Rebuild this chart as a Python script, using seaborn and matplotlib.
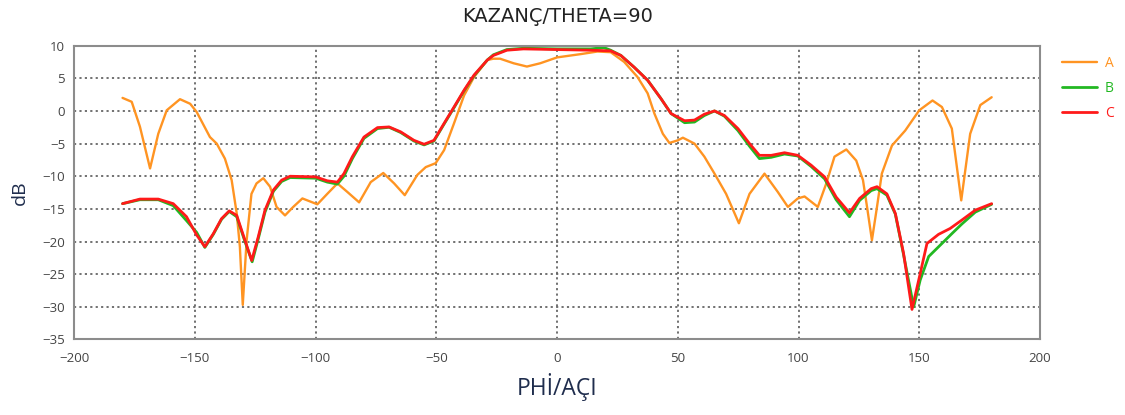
import matplotlib
matplotlib.use("Agg")
import matplotlib.pyplot as plt
import seaborn as sns
import pandas as pd

# ---- data ----
phi_a = [-180, -176.2, -172.8, -168.6, -165.2, -161.7, -156.2, -152, -149.3, -143.8, -141,
         -137.6, -134.8, -132.7, -131.4, -130.2, -128.6, -126.6, -124.5, -121.7, -118.9,
         -116.2, -112.7, -109.3, -105.5, -99.3, -95.2, -91, -86.9, -82, -77.2, -72, -67.5,
         -63.1, -57.9, -54.4, -50.3, -46.8, -42.7, -38.5, -34.4, -28.9, -26.4, -23.6, -18,
         -12.5, -7, 0, 9.7, 16.7, 22.2, 27.8, 33.3, 37.5, 40.3, 43.8, 46.5, 50, 52.1, 56.9,
         61, 65.2, 70, 75.3, 79.7, 85.9, 91.4, 95.6, 99.7, 102.5, 108, 111.5, 114.9, 119.8,
         123.9, 126.7, 128.5, 130.4, 132.5, 134.5, 138.7, 144.2, 150, 155.5, 159.4, 163.5,
         167.4, 171.1, 175.3, 180]
db_a = [2.0, 1.4, -2.4, -8.8, -3.5, 0.1, 1.8, 1.1, -0.15, -4.0, -5.0,
        -7.3, -10.6, -15.7, -20.8, -29.7, -19.8, -12.7, -11.1, -10.3, -11.6,
        -14.7, -16.0, -14.7, -13.4, -14.3, -12.7, -11.1, -12.4, -14.0, -10.9, -9.5, -11.1,
        -12.9, -9.8, -8.6, -8.0, -6.0, -1.9, 2.4, 5.2, 7.8, 8.0, 8.0, 7.3,
        6.8, 7.3, 8.2, 8.7, 9.1, 9.0, 7.5, 5.2, 2.7, -0.4, -3.5, -4.9, -4.5, -4.1, -5.0,
        -7.0, -9.6, -12.7, -17.2, -12.7, -9.6, -12.4, -14.7, -13.4, -13.1, -14.7, -11.1, -7.0, -5.9,
        -7.6, -10.6, -15.0, -19.8, -14.7, -9.6, -5.3, -3.0, 0.1, 1.6, 0.6, -2.7,
        -13.7, -3.5, 0.9, 2.1]

phi_b = [-180, -172.8, -165.2, -159, -153.5, -149.3, -145.9, -142.4, -139, -135.8, -132.7,
         -129.3, -126.3, -123.8, -121, -117.5, -114.1, -110.6, -100, -95.2, -91, -88.3,
         -84.8, -80, -74.4, -69.6, -64.8, -59.3, -55.1, -51, -46.8, -42.7, -38.5, -34.4,
         -28.9, -26.4, -20.8, -13.9, 0, 13.9, 19.4, 22.2, 26.4, 31.9, 37.5, 43, 47.2, 52.8,
         56.9, 61, 65.2, 69.3, 74.9, 79.7, 83.8, 88.7, 94.2, 99.7, 105.2, 110.8, 115.6,
         121.1, 125.3, 130.1, 132.5, 136.6, 140.1, 143.5, 147.7, 150.4, 153.9, 159.4, 163.5,
         167.7, 173.2, 180]
db_b = [-14.2, -13.6, -13.6, -14.5, -16.8, -18.6, -20.9, -18.9, -16.6, -15.4, -16.2,
        -20.0, -23.1, -19.6, -15.5, -12.3, -10.8, -10.2, -10.3, -10.9, -11.2, -10.0,
        -7.3, -4.2, -2.7, -2.5, -3.3, -4.6, -5.2, -4.6, -2.0, 0.5, 3.1, 5.4,
        7.8, 8.6, 9.4, 9.6, 9.5, 9.5, 9.7, 9.3, 8.5, 6.7, 4.7, 1.9, -0.4, -1.8,
        -1.7, -0.7, 0.0, -0.8, -3.0, -5.4, -7.3, -7.1, -6.6, -6.9, -8.5, -10.4, -13.6,
        -16.2, -13.7, -12.2, -11.9, -12.9, -15.8, -22.0, -30.0, -25.9, -22.3, -20.3, -18.8,
        -17.3, -15.5, -14.3]

phi_c = [-180, -172.8, -165.2, -159, -153.5, -149.3, -145.9, -142.4, -139, -135.8, -132.7,
         -129.3, -126.5, -123.8, -121, -117.5, -114.1, -110.6, -100, -95.2, -91, -88.3,
         -84.8, -80, -74.4, -69.6, -64.8, -59.3, -55.1, -51, -46.8, -42.7, -38.5, -34.4,
         -28.9, -26.4, -20.8, -13.9, 0, 13.9, 22.2, 26.4, 31.9, 37.5, 43, 47.2, 52.8,
         56.9, 61, 65.2, 69.3, 74.9, 79.7, 83.8, 88.7, 94.2, 99.7, 105.2, 110.8, 115.6,
         121.1, 125.3, 130.1, 132.5, 136.6, 140.1, 143.5, 147, 150.4, 153.2, 158, 162.8,
         167.7, 173.2, 180]
db_c = [-14.2, -13.5, -13.5, -14.2, -16.2, -19.0, -20.8, -18.8, -16.5, -15.3, -16.0,
        -19.8, -22.9, -19.3, -15.2, -12.1, -10.6, -10.0, -10.1, -10.7, -10.9, -9.6,
        -7.0, -4.0, -2.55, -2.45, -3.2, -4.5, -5.1, -4.5, -1.9, 0.6, 3.2, 5.5,
        7.8, 8.5, 9.3, 9.5, 9.4, 9.3, 9.2, 8.5, 6.7, 4.7, 1.9, -0.4, -1.5,
        -1.4, -0.5, 0.0, -0.7, -2.7, -5.0, -6.8, -6.8, -6.4, -6.8, -8.3, -10.1, -13.2,
        -15.6, -13.4, -11.9, -11.6, -12.7, -15.7, -21.8, -30.4, -24.9, -20.3, -18.9, -18.0,
        -16.7, -15.2, -14.2]

series_names = ["A", "B", "C"]
series_colors = {"A": "#FF9422", "B": "#22B822", "C": "#FF1A1A"}
x_ticks = [-200, -150, -100, -50, 0, 50, 100, 150, 200]
y_ticks = [10, 5, 0, -5, -10, -15, -20, -25, -30, -35]

frames = []
for name, px, py in zip(series_names, [phi_a, phi_b, phi_c], [db_a, db_b, db_c]):
    frames.append(pd.DataFrame({"phi": px, "dB": py, "series": name}))
df = pd.concat(frames, ignore_index=True)

sns.set_style("white")
plt.rcParams["font.family"] = ["Open Sans", "DejaVu Sans"]

fig = plt.figure(figsize=(11.25, 4.15), dpi=100)
ax = fig.add_axes([0.066, 0.182, 0.8584, 0.708])

for name in series_names:
    sub = df[df["series"] == name]
    sns.lineplot(data=sub, x="phi", y="dB", sort=False, ax=ax,
                 color=series_colors[name], linewidth=1.7 if name == "A" else 2.0,
                 label=name, estimator=None, solid_joinstyle="round",
                 solid_capstyle="round")

ax.set_xlim(-200, 200)
ax.set_ylim(-35, 10)
ax.set_xticks(x_ticks)
ax.set_yticks(y_ticks)
ax.grid(True, linestyle=(0, (1.2, 1.8)), color="#666666", linewidth=1.3)
for s in ax.spines.values():
    s.set_color("#8c8c8c")
    s.set_linewidth(1.5)
ax.tick_params(axis="both", which="both", direction="inout", length=6, width=1,
               color="#666666", labelsize=9.5, labelcolor="#444444")
ax.tick_params(axis="x", pad=6)

ax.set_title("KAZANÇ/THETA=90", fontsize=14, color="#222222", pad=17,
             family=["DejaVu Sans"])
ax.set_xlabel("PHİ/AÇI", fontsize=16.5, color="#1f2d4d", labelpad=6)
ax.set_ylabel("dB", fontsize=14, color="#1f2d4d", labelpad=10)

leg = ax.legend(loc="upper left", bbox_to_anchor=(1.0097, 1.007), frameon=False,
                handlelength=2.5, handletextpad=0.6, labelspacing=0.72, fontsize=10)
for text, name in zip(leg.get_texts(), series_names):
    text.set_color(series_colors[name])

fig.savefig("out.png", dpi=100)
